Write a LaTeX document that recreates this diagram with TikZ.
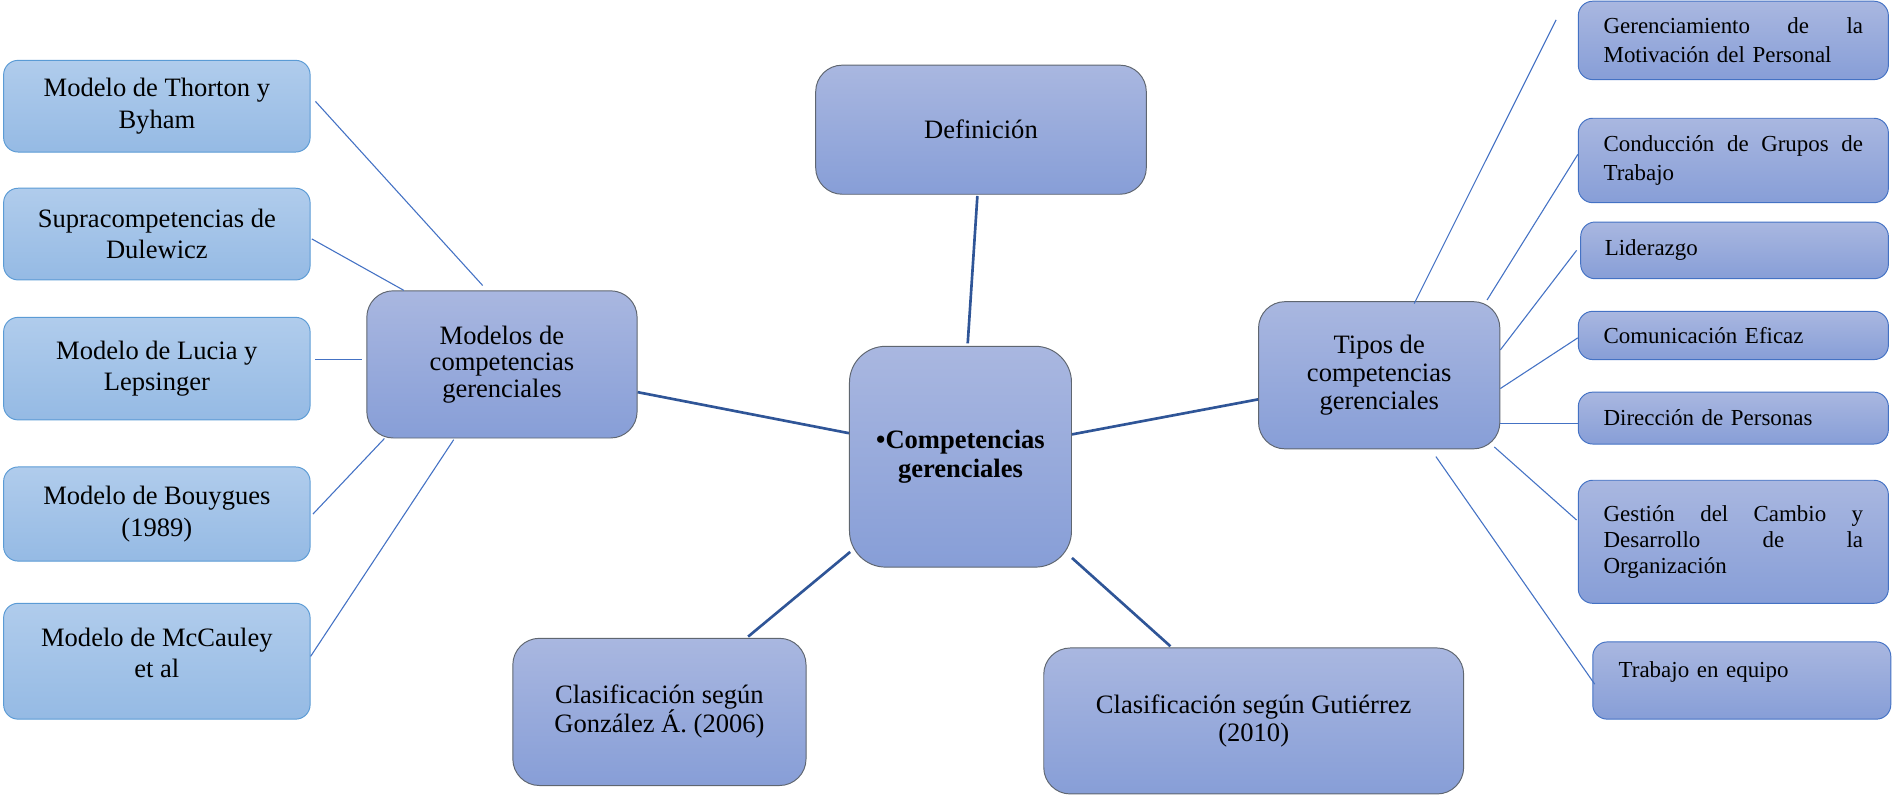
\documentclass[tikz,border=0pt]{standalone}
\usepackage{fontspec}
\setmainfont{Liberation Serif}
\usetikzlibrary{calc}
\definecolor{ltop}{HTML}{B0CCEC}
\definecolor{lbot}{HTML}{95BAE4}
\definecolor{lborder}{HTML}{5B9BD5}
\definecolor{ctop}{HTML}{A9B7E0}
\definecolor{cbot}{HTML}{879ED7}
\definecolor{cborder}{HTML}{5F6670}
\definecolor{rborder}{HTML}{4472C4}
\definecolor{thickc}{HTML}{2F5597}
\definecolor{thinc}{HTML}{4472C4}
\begin{document}
\begin{tikzpicture}[x=1pt,y=-1pt,
  lbox/.style={draw=lborder, line width=0.8pt, rounded corners=12pt, top color=ltop, bottom color=lbot,
    inner sep=0pt, align=center, font=\fontsize{22}{26}\selectfont},
  cbox/.style={draw=cborder, line width=0.8pt, rounded corners=22pt, top color=ctop, bottom color=cbot,
    inner sep=0pt, align=center, font=\fontsize{22}{24}\selectfont},
  rbox/.style={draw=rborder, line width=0.8pt, rounded corners=12pt, top color=ctop, bottom color=cbot,
    inner sep=0pt, align=left, text width=215pt, font=\fontsize{19}{24}\selectfont},
  sz/.style n args={2}{minimum width=#1pt, minimum height=#2pt},
  thickline/.style={draw=thickc, line width=2.2pt},
  thinline/.style={draw=thinc, line width=0.9pt}]
\useasboundingbox (0,0) rectangle (1568,660);

% left column
\node[lbox, sz={254}{76}] (thorton) at (130,88) {Modelo de Thorton y\\Byham};
\node[lbox, sz={254}{76}] (supra) at (130,194) {Supracompetencias de\\Dulewicz};
\node[lbox, sz={254}{85}] (lucia) at (130,305.5) {Modelo de Lucia y\\Lepsinger};
\node[lbox, sz={254}{78}] (bouygues) at (130,426) {Modelo de Bouygues\\(1989)};
\node[lbox, sz={254}{96}] (mccauley) at (130,548) {Modelo de McCauley\\et al\\[-12pt]\mbox{}};

% main branches
\node[cbox, sz={224}{122}, font=\fontsize{22}{22}\selectfont] (modelos) at (416,302) {Modelos de\\competencias\\gerenciales};
\node[cbox, sz={184}{183}, rounded corners=30pt, font=\fontsize{22}{24}\selectfont\bfseries] (central) at (796,378.5) {•Competencias\\gerenciales};
\node[cbox, sz={274}{107}] (definicion) at (813,107.5) {Definición};
\node[cbox, sz={200}{122}, font=\fontsize{22}{23.5}\selectfont] (tipos) at (1143,311) {Tipos de\\competencias\\gerenciales};
\node[cbox, sz={243}{122}] (gonzalez) at (546.5,590) {Clasificación según\\González Á. (2006)};
\node[cbox, sz={348}{121}] (gutierrez) at (1039,597.5) {Clasificación según Gutiérrez\\(2010)};

% right column
\node[rbox, sz={257}{65}] (geren) at (1436.5,33.5) {Gerenciamiento\hfill de\hfill la\\Motivación del Personal};
\node[rbox, sz={257}{70}] (conduccion) at (1436.5,133) {Conducción\hfill de\hfill Grupos\hfill de\\Trabajo};
\node[rbox, sz={255}{47}] (liderazgo) at (1437.5,207.5) {Liderazgo};
\node[rbox, sz={257}{40}] (comunicacion) at (1436.5,278) {Comunicación Eficaz};
\node[rbox, sz={257}{43}] (direccion) at (1436.5,346.5) {Dirección de Personas};
\node[rbox, sz={257}{102}, font=\fontsize{19}{21.5}\selectfont] (gestion) at (1436.5,449) {Gestión\hfill del\hfill Cambio\hfill y\\Desarrollo\hfill de\hfill la\\Organización};
\node[rbox, sz={247}{64}, text width=204pt] (trabajo) at (1443.5,564) {Trabajo en equipo\\[-6pt]\mbox{}};

% thick connectors
\draw[thickline] ([shift={(6,-2)}]central.north) -- ([shift={(-3,1)}]definicion.south);
\draw[thickline] ([shift={(0,-19.5)}]central.west) -- ([shift={(0,23)}]modelos.east);
\draw[thickline] ([shift={(0,-18.5)}]central.east) -- ([shift={(0,20)}]tipos.west);
\draw[thickline] ([shift={(1,-13)}]central.south west) -- ([shift={(73.5,-1)}]gonzalez.north);
\draw[thickline] ([shift={(0,-8)}]central.south east) -- ([shift={(-69,-1)}]gutierrez.north);

% thin connectors, left
\draw[thinline] ([shift={(4,-4)}]thorton.east) -- ([shift={(-16,-4)}]modelos.north);
\draw[thinline] ([shift={(1,4)}]supra.east) -- ([shift={(31,0)}]modelos.north west);
\draw[thinline] ([shift={(4,-7.5)}]lucia.east) -- ([shift={(-4,-4)}]modelos.west);
\draw[thinline] ([shift={(2,0)}]bouygues.east) -- ([shift={(15,0)}]modelos.south west);
\draw[thinline] ([shift={(0,-4)}]mccauley.east) -- ([shift={(-40,1)}]modelos.south);

% thin connectors, right
\draw[thinline] ([shift={(-18,-17)}]geren.west) -- ([shift={(29,2)}]tipos.north);
\draw[thinline] ([shift={(0,-5)}]conduccion.west) -- ([shift={(-11,-1)}]tipos.north east);
\draw[thinline] ([shift={(-3,0)}]liderazgo.west) -- ([shift={(0,-21)}]tipos.east);
\draw[thinline] ([shift={(0,2)}]comunicacion.west) -- ([shift={(0,11)}]tipos.east);
\draw[thinline] ([shift={(0,4.5)}]direccion.west) -- ([shift={(0,40)}]tipos.east);
\draw[thinline] ([shift={(-1,-18)}]gestion.west) -- ([shift={(-5,-2)}]tipos.south east);
\draw[thinline] ([shift={(2,3)}]trabajo.west) -- ([shift={(47,6)}]tipos.south);
\end{tikzpicture}
\end{document}
